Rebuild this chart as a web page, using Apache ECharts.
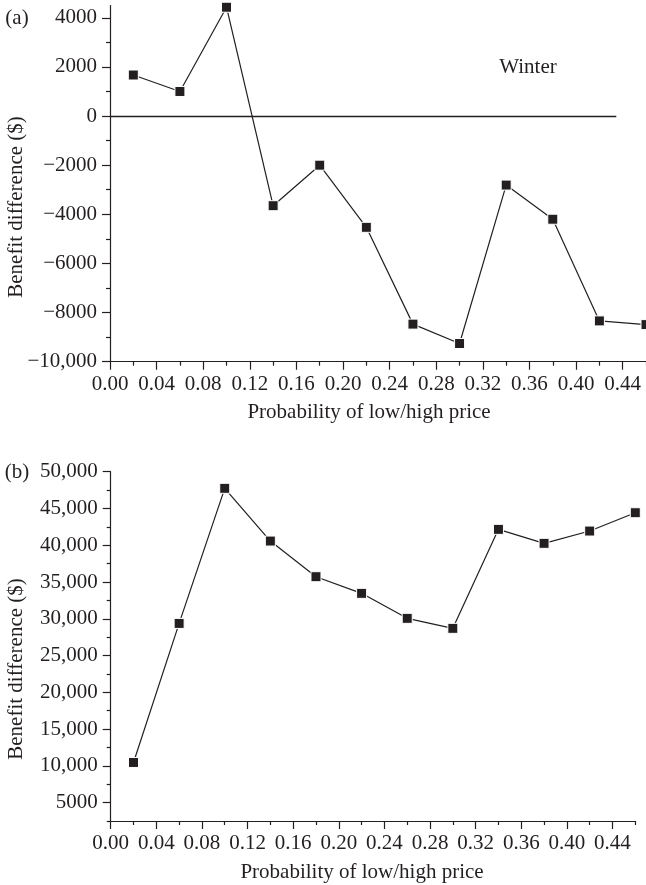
<!DOCTYPE html>
<html>
<head>
<meta charset="utf-8">
<script src="https://cdn.jsdelivr.net/npm/echarts@6/dist/echarts.min.js"></script>
<style>
  html, body { margin: 0; padding: 0; background: #fff; }
  #chart { width: 646px; height: 885px; }
</style>
</head>
<body>
<div id="chart"></div>
<script>
// probability of low/high price
var probs = [0.02, 0.06, 0.10, 0.14, 0.18, 0.22, 0.26, 0.30, 0.34, 0.38, 0.42, 0.46];
// (a) winter benefit difference ($)
var winterDiff = [1670, 1000, 4430, -3650, -2000, -4530, -8470, -9260, -2810, -4200, -8340, -8490];
// (b) benefit difference ($)
var secondDiff = [10460, 29370, 47740, 40570, 35720, 33460, 30060, 28700, 42160, 40260, 41930, 44420];

// tick values
var xMajor = [0, 0.04, 0.08, 0.12, 0.16, 0.20, 0.24, 0.28, 0.32, 0.36, 0.40, 0.44];
var xMinor = [0.02, 0.06, 0.10, 0.14, 0.18, 0.22, 0.26, 0.30, 0.34, 0.38, 0.42, 0.46];
var yMajorA = [-10000, -8000, -6000, -4000, -2000, 0, 2000, 4000];
var yMinorA = [-9000, -7000, -5000, -3000, -1000, 1000, 3000];
var yMajorB = [5000, 10000, 15000, 20000, 25000, 30000, 35000, 40000, 45000, 50000];
var yMinorB = [2500, 7500, 12500, 17500, 22500, 27500, 32500, 37500, 42500, 47500];
var zeroLineEnd = 0.4345;

var ink = "#231f20";
var serif = "Liberation Serif";

function fmtY(v) {
  var a = Math.abs(v);
  var s = a >= 10000 ? a.toLocaleString("en-US") : String(a);
  return v < 0 ? "\u2212" + s : s;
}

function xAxes(grid, min, max) {
  return [
    {
      type: "value", gridIndex: grid, min: min, max: max, position: "bottom", offset: 0,
      axisLine: { onZero: false, lineStyle: { color: ink, width: 1.2 } },
      axisTick: { customValues: xMajor, length: 8, lineStyle: { color: ink, width: 1.2 } },
      axisLabel: {
        customValues: xMajor, margin: 12, color: ink, fontFamily: serif, fontSize: 21,
        formatter: function (v) { return v.toFixed(2); }
      },
      splitLine: { show: false }
    },
    {
      type: "value", gridIndex: grid, min: min, max: max, position: "bottom", offset: 0,
      axisLine: { show: false, onZero: false },
      axisTick: { customValues: xMinor, length: 4, lineStyle: { color: ink, width: 1.2 } },
      axisLabel: { show: false },
      splitLine: { show: false }
    }
  ];
}

function yAxes(grid, min, max, major, minor) {
  return [
    {
      type: "value", gridIndex: grid, min: min, max: max, position: "left", offset: 0,
      axisLine: { show: true, onZero: false, lineStyle: { color: ink, width: 1.2 } },
      axisTick: { show: true, customValues: major, length: 8, lineStyle: { color: ink, width: 1.2 } },
      axisLabel: {
        customValues: major, margin: 13, color: ink, fontFamily: serif, fontSize: 21,
        formatter: fmtY
      },
      splitLine: { show: false }
    },
    {
      type: "value", gridIndex: grid, min: min, max: max, position: "left", offset: 0,
      axisLine: { show: false, onZero: false },
      axisTick: { show: true, customValues: minor, length: 4, lineStyle: { color: ink, width: 1.2 } },
      axisLabel: { show: false },
      splitLine: { show: false }
    }
  ];
}

function pts(xs, ys) {
  return xs.map(function (x, i) { return [x, ys[i]]; });
}

var chart = echarts.init(document.getElementById("chart"));

var txt = function (x, y, s, rot) {
  return {
    type: "text", x: x, y: y, rotation: rot || 0,
    style: {
      text: s, fill: ink, font: "21px '" + serif + "'",
      align: "center", verticalAlign: "middle"
    }
  };
};

var option = {
  animation: false,
  backgroundColor: "#fff",
  grid: [
    { left: 110, top: 5.5, width: 537, height: 356.2 },
    { left: 110.7, top: 471.7, width: 524.6, height: 349.3 }
  ],
  xAxis: xAxes(0, 0, 0.46).concat(xAxes(1, 0, 0.46)),
  yAxis: yAxes(0, -10000, 4500, yMajorA, yMinorA).concat(yAxes(1, 2500, 50000, yMajorB, yMinorB)),
  series: [
    {
      type: "line", xAxisIndex: 0, yAxisIndex: 0,
      data: pts(probs, winterDiff),
      clip: false,
      symbol: "rect", symbolSize: 10,
      lineStyle: { color: ink, width: 1.2 },
      itemStyle: { color: ink, borderColor: "#fff", borderWidth: 1 },
      markLine: {
        silent: true, symbol: "none", label: { show: false },
        lineStyle: { color: ink, width: 1.4, type: "solid" },
        data: [[{ coord: [0, 0] }, { coord: [zeroLineEnd, 0] }]]
      },
      z: 3
    },
    {
      type: "line", xAxisIndex: 2, yAxisIndex: 2,
      data: pts(probs, secondDiff),
      clip: false,
      symbol: "rect", symbolSize: 10,
      lineStyle: { color: ink, width: 1.2 },
      itemStyle: { color: ink, borderColor: "#fff", borderWidth: 1 },
      z: 3
    }
  ],
  graphic: [
    txt(17, 18, "(a)"),
    txt(17, 472, "(b)"),
    txt(528, 67, "Winter"),
    txt(16, 207, "Benefit difference ($)", Math.PI / 2),
    txt(16, 669, "Benefit difference ($)", Math.PI / 2),
    txt(369, 412, "Probability of low/high price"),
    txt(362, 872, "Probability of low/high price")
  ]
};

chart.setOption(option);
</script>
</body>
</html>
